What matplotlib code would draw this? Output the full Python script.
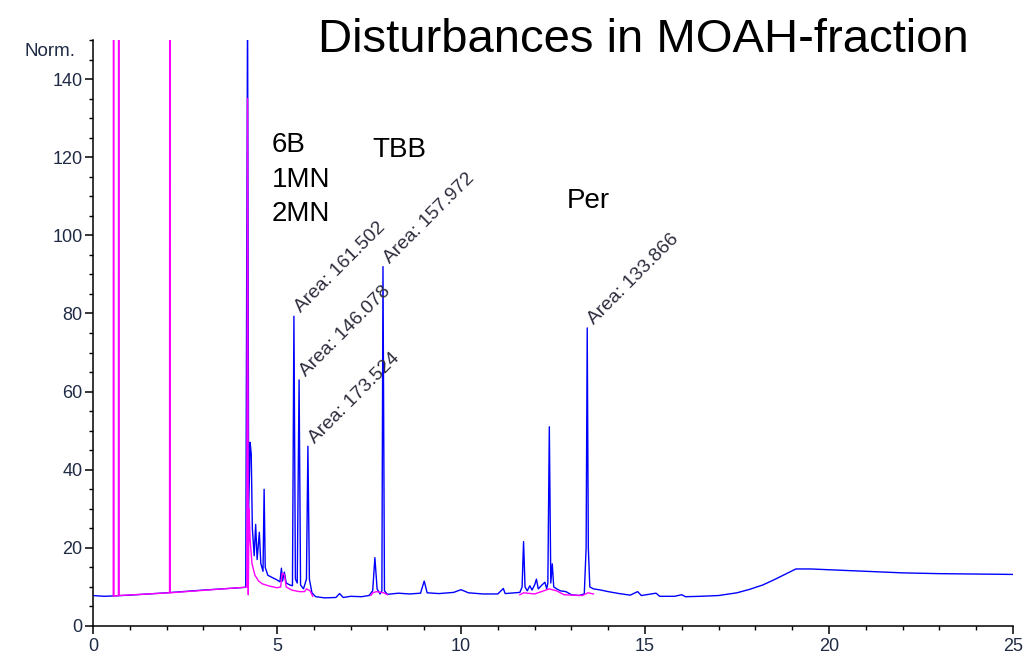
import matplotlib
matplotlib.use("Agg")
import matplotlib.pyplot as plt
from matplotlib.ticker import MultipleLocator

NaN = float('nan')

# ---------------- data ----------------
blue_time = [
    0.0, 0.3, 0.55, 1.0, 2.0, 3.0, 4.0, 4.15, 4.20, 4.23,
    4.27, 4.30, 4.33, 4.38, 4.42, 4.46, 4.52, 4.56, 4.62, 4.65,
    4.68, 4.75, 4.85, 5.0, 5.08, 5.12, 5.15, 5.20, 5.25, 5.35,
    5.42, 5.46, 5.50, 5.55, 5.60, 5.64, 5.72, 5.80, 5.84, 5.88,
    5.95, 6.05, 6.3, 6.6, 6.7, 6.8, 7.0, 7.3, 7.5, 7.6,
    7.66, 7.72, 7.8, 7.85, 7.88, 7.92, 8.0, 8.3, 8.6, 8.9,
    9.0, 9.08, 9.4, 9.8, 10.0, 10.2, 10.6, 11.0, 11.15, 11.2,
    11.6, 11.66, 11.70, 11.74, 11.8, 11.87, 11.93, 12.0, 12.05, 12.1,
    12.2, 12.28, 12.33, 12.36, 12.40, 12.44, 12.48, 12.52, 12.6, 12.7,
    12.85, 13.0, 13.2, 13.35, 13.40, 13.43, 13.46, 13.5, 13.6, 13.8,
    14.0, 14.3, 14.6, 14.8, 14.9, 15.3, 15.4, 15.8, 16.0, 16.1,
    16.5, 17.0, 17.5, 17.85, 18.2, 18.5, 18.8, 19.1, 19.5, 20.0,
    21.0, 22.0, 23.0, 24.0, 25.0,
]
blue_signal = [
    7.8, 7.6, 7.7, 7.9, 8.5, 9.2, 9.8, 9.9, 160, 30,
    47, 44, 25, 18, 26, 17, 24, 16, 14, 35,
    15, 13, 12.5, 11.8, 11.3, 14.8, 11.5, 13.8, 11, 10.5,
    10.3, 79.3, 12, 11, 63, 10.5, 9.5, 12, 46, 12,
    8.5, 7.5, 7.2, 7.3, 8.3, 7.3, 7.6, 7.5, 7.8, 9,
    17.5, 9.5, 8.2, 9, 92, 9, 8.1, 8.4, 8.2, 8.4,
    11.5, 8.5, 8.3, 8.6, 9.3, 8.5, 8.2, 8.2, 9.6, 8.3,
    8.6, 10, 21.6, 10, 9, 10.3, 9.2, 10.5, 12, 9.5,
    10.5, 11.2, 9.5, 11, 51, 11, 15.9, 10, 9.5, 9,
    8.8, 8, 7.8, 8.2, 20, 76.3, 20, 10, 9.5, 9.2,
    8.8, 8.3, 7.9, 8.8, 7.8, 8.4, 7.6, 7.6, 8, 7.5,
    7.6, 7.8, 8.5, 9.4, 10.5, 11.8, 13.2, 14.6, 14.6, 14.4,
    14.0, 13.6, 13.4, 13.3, 13.2,
]

# magenta trace; NaN where it is hidden under the blue trace
magenta_time = [
    0.55, 0.56, 0.57, 0.69, 0.70, 0.71, 2.08, 2.09, 2.10, 4.10,
    4.18, 4.20, 4.22, 4.24, 4.27, 4.32, 4.40, 4.50, 4.60, 4.80,
    5.0, 5.1, 5.14, 5.2, 5.25, 5.4, 5.6, 5.75, 5.8, 5.9,
    5.97, 6.0, 7.5, 7.55, 7.6, 7.7, 7.9, 8.0, 8.05, 11.55,
    11.6, 11.7, 12.0, 12.4, 12.6, 12.8, 13.3, 13.45, 13.6,
]
magenta_signal = [
    7.7, 400, 7.7, 7.75, 400, 7.8, 8.5, 400, 8.5, 9.9,
    10, 135, 8, 30, 22, 16, 13, 11.5, 10.8, 10.2,
    9.8, 10, 13.5, 13.2, 10, 9.2, 8.8, 8.8, 9.5, 9,
    7.6, NaN, NaN, 7.8, 8.5, 8.8, 8.5, 8.0, NaN, NaN,
    8.0, 8.5, 8.2, 9.5, 9.0, 8.0, 7.8, 8.5, 8.2,
]

peak_times = [5.46, 5.60, 5.84, 7.88, 13.43]
peak_heights = [79.3, 63, 46, 92, 76.3]
peak_areas = ["161.502", "146.078", "173.524", "157.972", "133.866"]

x_ticks = [0, 5, 10, 15, 20, 25]
y_ticks = [0, 20, 40, 60, 80, 100, 120, 140]

title_text = "Disturbances in MOAH-fraction"
compound_labels = ["6B", "1MN", "2MN"]

# ---------------- figure ----------------
plt.rcParams['font.family'] = ['Liberation Sans', 'DejaVu Sans']
W, H = 1028, 658
fig = plt.figure(figsize=(W / 100, H / 100), dpi=100)
ax = fig.add_axes([93 / W, 1 - 626 / H, (1013 - 93) / W, (626 - 40) / H])

ax.plot(blue_time, blue_signal, color='#0000ff', lw=1.0, zorder=2)
ax.plot(magenta_time, magenta_signal, color='#ff00ff', lw=1.0, zorder=3)

ax.set_xlim(0, 25)
ax.set_ylim(0, 150)
ax.set_xticks(x_ticks)
ax.set_yticks(y_ticks)
ax.xaxis.set_minor_locator(MultipleLocator(1))
ax.yaxis.set_minor_locator(MultipleLocator(5))

for s in ['top', 'right']:
    ax.spines[s].set_visible(False)
for s in ['left', 'bottom']:
    ax.spines[s].set_linewidth(1.1)
    ax.spines[s].set_color('black')

lab_col = '#1f2a44'
ax.tick_params(which='major', length=5.5, width=1.1, direction='out',
               labelsize=13, labelcolor=lab_col, pad=2)
ax.tick_params(which='minor', length=3, width=1.0, direction='out')
ax.tick_params(axis='x', which='major', pad=3)

fig.text(75 / W, 1 - 56 / H, "Norm.", fontsize=13.5, color=lab_col,
         ha='right', va='baseline')

# peak area annotations
for t, h, a in zip(peak_times, peak_heights, peak_areas):
    ax.annotate("Area: " + a, xy=(t, h), xytext=(5, 2),
                textcoords='offset points', rotation=45,
                rotation_mode='anchor', ha='left', va='baseline',
                fontsize=13.8, color='#2e2e3e', zorder=4)

# title and compound labels
fig.text(318 / W, 1 - 52 / H, title_text, fontsize=34, color='black',
         ha='left', va='baseline')
label_baselines = [152, 187, 221]
for lab, yb in zip(compound_labels, label_baselines):
    fig.text(272 / W, 1 - yb / H, lab, fontsize=20, color='black',
             ha='left', va='baseline')
fig.text(372 / W, 1 - 157 / H, "TBB", fontsize=20, color='black',
         ha='left', va='baseline')
fig.text(567 / W, 1 - 208 / H, "Per", fontsize=20, color='black',
         ha='left', va='baseline')

fig.savefig("out.png", dpi=100)
